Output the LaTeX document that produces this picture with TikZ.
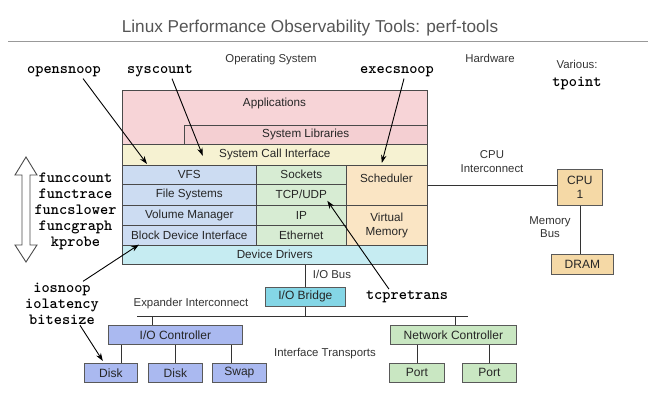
\documentclass[tikz,border=0pt]{standalone}
\usepackage{fontspec}
\setmainfont{Liberation Sans}
\usetikzlibrary{arrows.meta}
\definecolor{titlegray}{HTML}{555555}
\definecolor{labgray}{HTML}{333333}
\definecolor{edge}{HTML}{4A4A4A}
\definecolor{apppink}{HTML}{F7D4D7}
\definecolor{libpink}{HTML}{F4CFD2}
\definecolor{sciyellow}{HTML}{F6F2D2}
\definecolor{fsblue}{HTML}{CCDCF2}
\definecolor{netgreen}{HTML}{D7ECD3}
\definecolor{schedorange}{HTML}{FAE5C4}
\definecolor{ddcyan}{HTML}{C6ECF2}
\definecolor{bridgecyan}{HTML}{84D6E6}
\definecolor{ioblue}{HTML}{AAB9F0}
\definecolor{portgreen}{HTML}{C9E7C2}
\definecolor{cputan}{HTML}{F5D9A6}
\tikzset{
  box/.style={draw=edge, line width=0.6pt, inner sep=0pt, anchor=north west,
    font=\fontsize{11.7}{13}\selectfont, text=black!85},
  hwbox/.style={box, font=\fontsize{12}{14}\selectfont, line width=0.7pt, draw=black!65},
  tool/.style={font=\fontsize{15.6}{16}\selectfont\ttfamily\bfseries, inner sep=1pt, anchor=base},
  lab/.style={font=\fontsize{11.4}{13}\selectfont, text=labgray, inner sep=1pt, anchor=base},
  wire/.style={draw=black!80, line width=0.7pt},
  probe/.style={draw=black, line width=0.9pt, -{Stealth[length=8pt,width=5.5pt]}}
}
\begin{document}
\begin{tikzpicture}[x=1pt,y=-1pt]
\useasboundingbox (0,0) rectangle (666,412);
% title
\node[font=\fontsize{17.2}{20}\selectfont, text=titlegray, anchor=base, inner sep=0pt] (title) at (310,33) {Linux Performance Observability Tools: perf-tools};
\coordinate (ruleL) at (8,41);
\coordinate (ruleR) at (648,41);
\draw[gray!80, line width=0.8pt] (ruleL) -- (ruleR);
% section labels
\node[lab] (os) at (271,63) {Operating System};
\node[lab] (hw) at (490,63) {Hardware};
\node[lab] (various) at (577,68) {Various:};
\node[tool] (tpoint) at (577,86) {tpoint};
% tool labels
\node[tool] (opensnoop) at (64,74) {opensnoop};
\node[tool] (syscount) at (160,74) {syscount};
\node[tool] (execsnoop) at (397,74) {execsnoop};
\node[tool] (funccount) at (75.5,182) {funccount};
\node[tool] (functrace) at (75.5,198) {functrace};
\node[tool] (funcslower) at (75.5,214) {funcslower};
\node[tool] (funcgraph) at (75.5,230) {funcgraph};
\node[tool] (kprobe) at (75.5,246) {kprobe};
\node[tool] (iosnoop) at (62,292) {iosnoop};
\node[tool] (iolatency) at (62,308) {iolatency};
\node[tool] (bitesize) at (62,324) {bitesize};
\node[tool] (tcpretrans) at (407,299) {tcpretrans};
% double arrow
\draw[draw=edge, line width=0.9pt, fill=white, line join=miter]
  (26,157) -- (37,175) -- (30,175) -- (30,245) -- (37,245) -- (26,262)
  -- (15,245) -- (22,245) -- (22,175) -- (15,175) -- cycle;
% OS stack
\node[box, fill=apppink, minimum width=305pt, minimum height=54pt] (appbox) at (122,90) {};
\node[inner sep=0pt, font=\fontsize{11.7}{13}\selectfont, text=black!85] (applbl) at (274.5,103) {Applications};
\node[box, fill=libpink, minimum width=243pt, minimum height=19pt] (syslib) at (184,125) {System Libraries};
\node[box, fill=sciyellow, minimum width=305pt, minimum height=21pt] (sci) at (122,144) {System Call Interface};
\node[box, fill=fsblue, minimum width=134pt, minimum height=19pt] (vfs) at (122,165) {VFS};
\node[box, fill=fsblue, minimum width=134pt, minimum height=21pt] (fs) at (122,184) {File Systems};
\node[box, fill=fsblue, minimum width=134pt, minimum height=20pt] (volmgr) at (122,205) {Volume Manager};
\node[box, fill=fsblue, minimum width=134pt, minimum height=20pt] (blockdev) at (122,225) {Block Device Interface};
\node[box, fill=netgreen, minimum width=90pt, minimum height=19pt] (sockets) at (256,165) {Sockets};
\node[box, fill=netgreen, minimum width=90pt, minimum height=21pt] (tcp) at (256,184) {TCP/UDP};
\node[box, fill=netgreen, minimum width=90pt, minimum height=20pt] (ip) at (256,205) {IP};
\node[box, fill=netgreen, minimum width=90pt, minimum height=20pt] (eth) at (256,225) {Ethernet};
\node[box, fill=schedorange, minimum width=81pt, minimum height=40pt] (sched) at (346,165) {};
\node[inner sep=0pt, font=\fontsize{11.7}{13}\selectfont, text=black!85] (schedlbl) at (386.5,178) {Scheduler};
\node[box, fill=schedorange, minimum width=81pt, minimum height=40pt, align=center, font=\fontsize{11.7}{14}\selectfont] (vmem) at (346,205) {Virtual\\Memory};
\node[box, fill=ddcyan, minimum width=305pt, minimum height=19pt] (dd) at (122,245) {Device Drivers};
% I/O
\node[hwbox, fill=bridgecyan, minimum width=80pt, minimum height=19pt] (iobridge) at (265,287) {I/O Bridge};
\node[lab] (iobus) at (332,278) {I/O Bus};
\node[lab] (expander) at (191,306) {Expander Interconnect};
\node[lab] (transports) at (325,356) {Interface Transports};
\coordinate (busL) at (137,316);
\coordinate (busR) at (468,316);
\draw[wire] (busL) -- (busR);
\draw[wire] (iobridge.north) -- (iobridge.north |- dd.south);
\draw[wire] (iobridge.south) -- (iobridge.south |- busL);
\node[hwbox, fill=ioblue, minimum width=134pt, minimum height=19pt] (ioctrl) at (108,325) {I/O Controller};
\node[hwbox, fill=ioblue, minimum width=53pt, minimum height=19pt] (disk1) at (84,363) {Disk};
\node[hwbox, fill=ioblue, minimum width=54pt, minimum height=19pt] (disk2) at (148,363) {Disk};
\node[hwbox, fill=ioblue, minimum width=54pt, minimum height=19pt] (swap) at (212,363) {Swap};
\coordinate (ioctap) at (152,316);
\draw[wire] (ioctap) -- (ioctap |- ioctrl.north);
\draw[wire] ([xshift=10.5pt]disk1.north) -- ([xshift=10.5pt]disk1.north |- ioctrl.south);
\draw[wire] (disk2.north) -- (disk2.north |- ioctrl.south);
\draw[wire] ([xshift=-8pt]swap.north) -- ([xshift=-8pt]swap.north |- ioctrl.south);
\node[hwbox, fill=portgreen, minimum width=126pt, minimum height=19pt] (netctrl) at (390,325) {Network Controller};
\node[hwbox, fill=portgreen, minimum width=55pt, minimum height=19pt] (port1) at (389,363) {Port};
\node[hwbox, fill=portgreen, minimum width=54pt, minimum height=19pt] (port2) at (462,363) {Port};
\draw[wire] ([xshift=2pt]netctrl.north) -- ([xshift=2pt]netctrl.north |- busL);
\draw[wire] (port1.north) -- (port1.north |- netctrl.south);
\draw[wire] (port2.north) -- (port2.north |- netctrl.south);
% CPU side
\node[hwbox, fill=cputan, minimum width=45pt, minimum height=36pt, align=center, font=\fontsize{12}{14}\selectfont] (cpu) at (557,169) {CPU\\1};
\node[hwbox, fill=cputan, minimum width=62pt, minimum height=20pt] (dram) at (551,254) {DRAM};
\node[lab] (cpuic1) at (492,158) {CPU};
\node[lab] (cpuic2) at (492,172) {Interconnect};
\node[lab] (membus1) at (550,224) {Memory};
\node[lab] (membus2) at (550,237) {Bus};
\draw[wire] (sched.east) -- (sched.east -| cpu.west);
\draw[wire] (cpu.south) -- (cpu.south |- dram.north);
% probe arrows
\draw[probe] ([xshift=19pt]opensnoop.south) -- ([xshift=25pt,yshift=1pt]vfs.north west);
\draw[probe] ([xshift=12pt]syscount.south) -- ([xshift=-72pt,yshift=-1pt]sci.center);
\draw[probe] ([xshift=7pt]execsnoop.south) -- ([xshift=-5pt,yshift=2pt]sched.north);
\draw[probe] ([xshift=21pt]iosnoop.north) -- ([xshift=17pt,yshift=1pt]blockdev.south west);
\draw[probe] ([xshift=18pt]bitesize.south) -- ([xshift=-8pt,yshift=2pt]disk1.north);
\draw[probe] ([xshift=-18pt]tcpretrans.north) -- ([xshift=26pt,yshift=-6pt]tcp.center);
\end{tikzpicture}
\end{document}
